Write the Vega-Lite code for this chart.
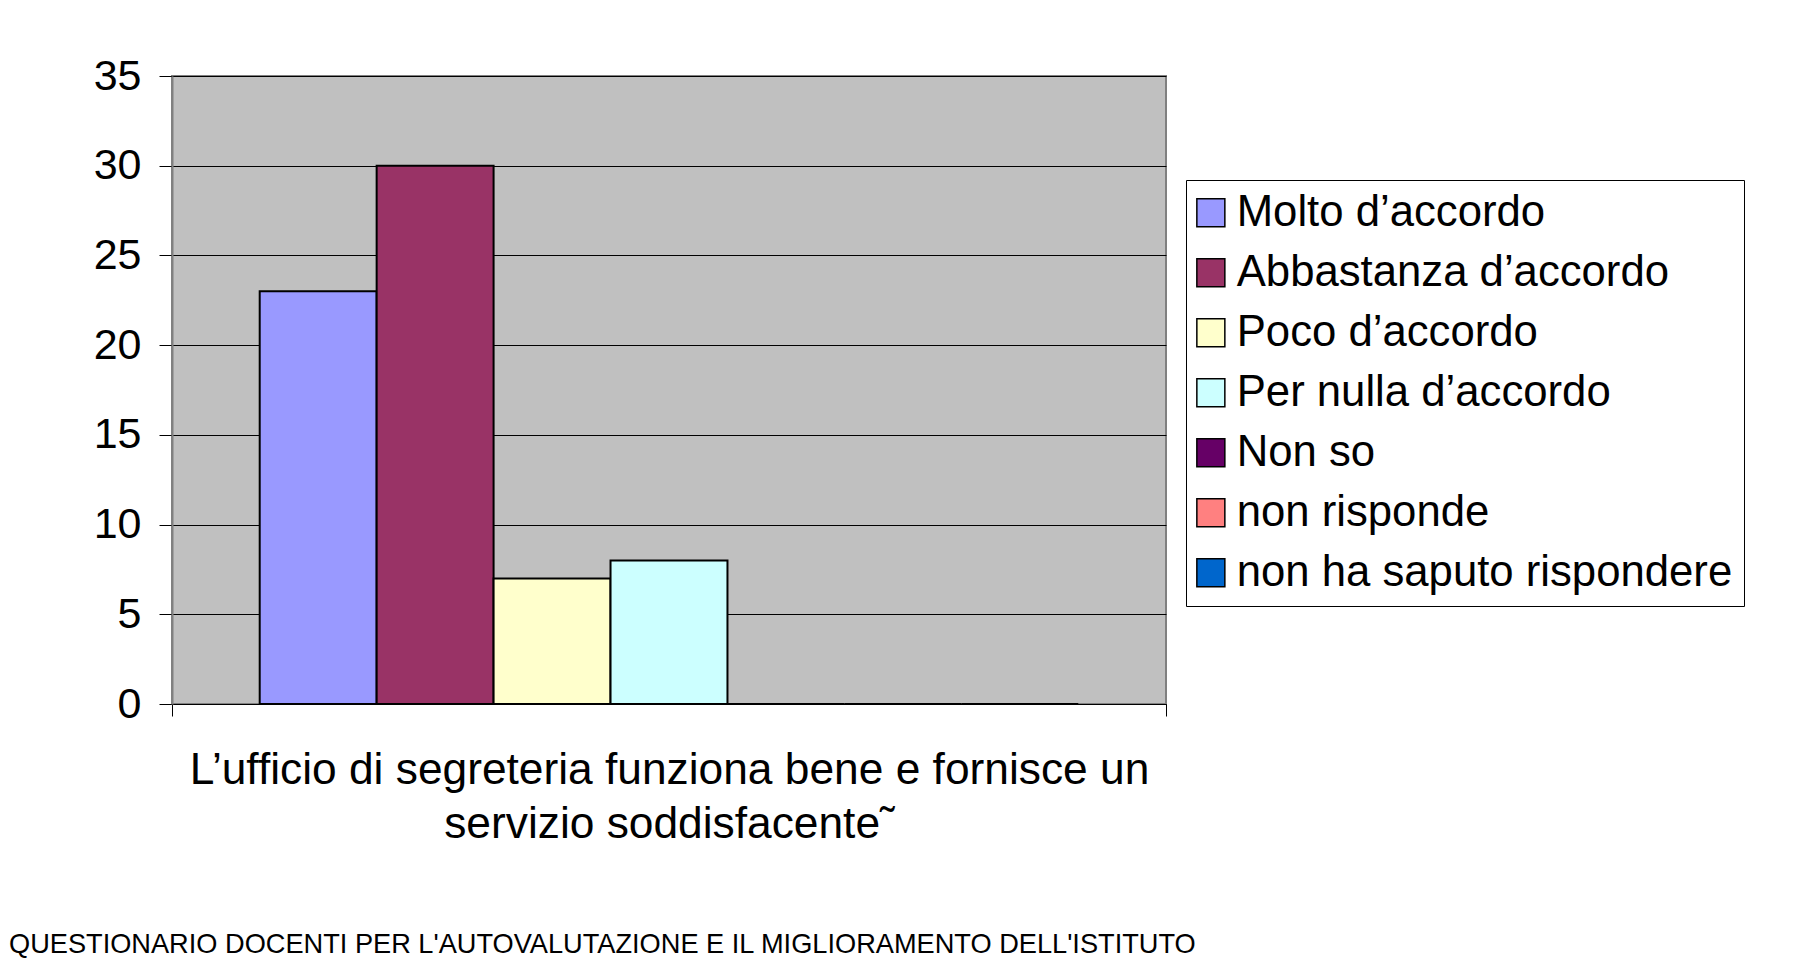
{
  "$schema": "https://vega.github.io/schema/vega-lite/v6.json",
  "width": 994,
  "height": 628,
  "autosize": {"type": "none"},
  "padding": {"left": 172, "top": 76, "right": 652, "bottom": 258},
  "background": "#ffffff",
  "config": {
    "font": "Liberation Sans",
    "view": {"fill": "#C0C0C0", "stroke": "#808080", "strokeWidth": 2}
  },
  "title": {
    "text": "QUESTIONARIO DOCENTI PER L'AUTOVALUTAZIONE E IL MIGLIORAMENTO DELL'ISTITUTO",
    "orient": "bottom",
    "anchor": "start",
    "frame": "group",
    "dx": -163,
    "offset": 85,
    "fontSize": 27.2,
    "fontWeight": "normal",
    "font": "Liberation Sans",
    "color": "#000000"
  },
  "data": {
    "values": [
      {"domanda": "Q", "risposta": "Molto d’accordo", "n": 23},
      {"domanda": "Q", "risposta": "Abbastanza d’accordo", "n": 30},
      {"domanda": "Q", "risposta": "Poco d’accordo", "n": 7},
      {"domanda": "Q", "risposta": "Per nulla d’accordo", "n": 8},
      {"domanda": "Q", "risposta": "Non so", "n": 0},
      {"domanda": "Q", "risposta": "non risponde", "n": 0},
      {"domanda": "Q", "risposta": "non ha saputo rispondere", "n": 0}
    ]
  },
  "mark": {"type": "bar", "stroke": "#000000", "strokeWidth": 2},
  "encoding": {
    "x": {
      "field": "domanda",
      "type": "nominal",
      "scale": {"paddingInner": 0, "paddingOuter": 0},
      "axis": {
        "labels": false,
        "tickBand": "extent",
        "tickSize": 12,
        "tickColor": "#000000",
        "domainColor": "#000000",
        "domainWidth": 1,
        "title": ["L’ufficio di segreteria funziona bene e fornisce un", "servizio soddisfacente˜"],
        "titleFontSize": 44.3,
        "titleFontWeight": "normal",
        "titleColor": "#000000",
        "titlePadding": 32,
        "titleLineHeight": 54
      }
    },
    "xOffset": {
      "field": "risposta",
      "type": "nominal",
      "sort": ["Molto d’accordo", "Abbastanza d’accordo", "Poco d’accordo", "Per nulla d’accordo", "Non so", "non risponde", "non ha saputo rispondere"],
      "scale": {"paddingInner": 0, "paddingOuter": 0.75}
    },
    "y": {
      "field": "n",
      "type": "quantitative",
      "scale": {"domain": [0, 35], "nice": false},
      "axis": {
        "values": [0, 5, 10, 15, 20, 25, 30, 35],
        "title": null,
        "labelFontSize": 43,
        "labelColor": "#000000",
        "labelPadding": 18,
        "tickSize": 13,
        "tickColor": "#000000",
        "domainColor": "#808080",
        "domainWidth": 2,
        "gridColor": "#000000",
        "gridWidth": 1
      }
    },
    "color": {
      "field": "risposta",
      "type": "nominal",
      "sort": ["Molto d’accordo", "Abbastanza d’accordo", "Poco d’accordo", "Per nulla d’accordo", "Non so", "non risponde", "non ha saputo rispondere"],
      "scale": {
        "domain": ["Molto d’accordo", "Abbastanza d’accordo", "Poco d’accordo", "Per nulla d’accordo", "Non so", "non risponde", "non ha saputo rispondere"],
        "range": ["#9999FF", "#993366", "#FFFFCC", "#CCFFFF", "#660066", "#FF8080", "#0066CC"]
      },
      "legend": {
        "orient": "none",
        "legendX": 1014,
        "legendY": 104,
        "title": null,
        "labelFontSize": 43.7,
        "labelColor": "#000000",
        "labelLimit": 1000,
        "labelOffset": 4,
        "symbolOffset": -8,
        "symbolType": "square",
        "symbolSize": 784,
        "symbolStrokeColor": "#000000",
        "symbolStrokeWidth": 1.5,
        "symbolOpacity": 1,
        "padding": 11,
        "rowPadding": 15,
        "strokeColor": "#000000",
        "fillColor": "#ffffff"
      }
    }
  }
}
